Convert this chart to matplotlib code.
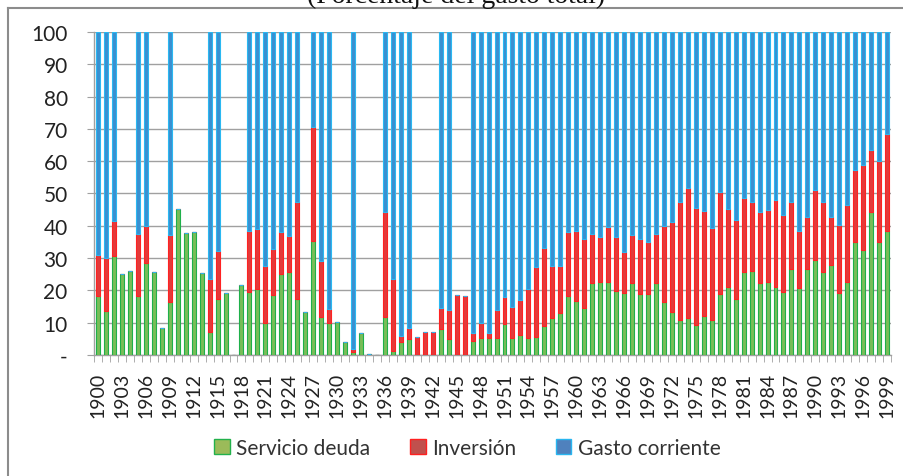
import numpy as np
import matplotlib
matplotlib.use("Agg")
import matplotlib.pyplot as plt
from matplotlib.patches import Patch
from matplotlib.lines import Line2D

plt.rcParams['font.family'] = ['Lato', 'DejaVu Sans']

years = list(range(1900, 2000))

# % del gasto total, por año (0 = sin dato)
servicio_deuda = [
    18.3, 13.7, 30.6, 25.0, 26.0, 18.3, 28.4, 25.6, 8.4, 16.3,     # 1900s
    45.2, 37.7, 38.1, 25.3, 7.1, 17.3, 19.1, 0, 21.7, 19.5,        # 1910s
    20.5, 10.0, 18.6, 25.0, 25.6, 17.3, 13.4, 35.3, 11.8, 10.0,    # 1920s
    10.2, 4.0, 1.0, 6.7, 0.3, 0, 11.8, 1.2, 3.9, 5.1,              # 1930s
    0, 0, 0, 8.1, 5.0, 0, 0, 4.3, 5.3, 5.2,                        # 1940s
    5.2, 9.5, 5.3, 6.3, 5.3, 5.6, 9.1, 11.4, 13.0, 18.3,           # 1950s
    16.6, 14.4, 22.2, 22.6, 22.6, 19.9, 19.3, 22.2, 18.9, 18.9,    # 1960s
    22.2, 16.4, 13.3, 10.9, 11.5, 9.2, 12.1, 10.9, 18.9, 21.2,     # 1970s
    17.4, 25.7, 26.1, 22.2, 22.5, 21.2, 19.4, 26.7, 20.8, 26.7,    # 1980s
    29.4, 25.6, 28.0, 19.2, 22.5, 35.0, 32.6, 44.4, 35.0, 38.5,    # 1990s
]
inversion = [
    12.6, 16.2, 10.9, 0, 0, 19.1, 11.6, 0, 0, 20.8,
    0, 0, 0, 0, 16.5, 15.0, 0, 0, 0, 19.0,
    18.6, 17.6, 14.3, 13.1, 11.1, 30.2, 0, 35.3, 17.2, 4.2,
    0, 0, 0.8, 0, 0, 0, 32.5, 22.3, 1.9, 3.2,
    5.7, 7.1, 7.1, 6.5, 9.0, 18.5, 18.2, 2.5, 4.5, 1.6,
    8.8, 8.5, 9.7, 10.7, 15.2, 21.5, 23.9, 16.0, 14.4, 19.9,
    21.9, 21.5, 15.2, 14.0, 17.1, 16.6, 12.6, 14.9, 17.0, 16.0,
    15.2, 23.6, 27.8, 36.6, 40.3, 36.3, 32.5, 28.3, 31.6, 24.0,
    24.4, 22.8, 21.2, 22.1, 22.4, 26.7, 23.9, 20.8, 17.6, 16.0,
    21.6, 21.9, 14.7, 21.1, 24.0, 22.3, 26.3, 19.1, 25.2, 30.0,
]
gasto_corriente = [
    69.1, 70.1, 58.5, 0, 0, 62.6, 60.0, 0, 0, 62.9,
    0, 0, 0, 0, 76.4, 67.7, 0, 0, 0, 61.5,
    60.9, 72.4, 67.1, 61.9, 63.3, 52.5, 0, 29.4, 71.0, 85.8,
    0, 0, 98.2, 0, 0, 0, 55.7, 76.5, 94.2, 91.7,
    0, 0, 0, 85.4, 86.0, 0, 0, 93.2, 90.2, 93.2,
    86.0, 82.0, 85.0, 83.0, 79.5, 72.9, 67.0, 72.6, 72.6, 61.8,
    61.5, 64.1, 62.6, 63.4, 60.3, 63.5, 68.1, 62.9, 64.1, 65.1,
    62.6, 60.0, 58.9, 52.5, 48.2, 54.5, 55.4, 60.8, 49.5, 54.8,
    58.2, 51.5, 52.7, 55.7, 55.1, 52.1, 56.7, 52.5, 61.6, 57.3,
    49.0, 52.5, 57.3, 59.7, 53.5, 42.7, 41.1, 36.5, 39.8, 31.5,
]

x = np.arange(len(years))
g = np.array(servicio_deuda)
r = np.array(inversion)
b = np.array(gasto_corriente)

fig = plt.figure(figsize=(9.04, 4.77), dpi=100)
ax = fig.add_axes([0.104, 0.2537, 0.8817, 0.6771])

w = 0.5
ax.bar(x, g, w, color='#79bd58', edgecolor='#1fb04a', linewidth=0.8, zorder=3)
ax.bar(x, r, w, bottom=g, color='#e23b3b', edgecolor='#ff2222', linewidth=0.8, zorder=3)
ax.bar(x, b, w, bottom=g + r, color='#3a8fd0', edgecolor='#2ab8f2', linewidth=0.8, zorder=3)

ax.set_xlim(-0.5, len(years) - 0.5)
ax.set_ylim(0, 100)

ax.set_yticks(range(0, 101, 10))
ax.set_yticklabels(['-'] + [str(v) for v in range(10, 101, 10)], fontsize=15, color='#222222')
ax.yaxis.grid(True, color='#a0a0a0', linewidth=1.0, zorder=0)
ax.tick_params(axis='y', length=5, color='#a0a0a0', pad=14)

ax.set_xticks(x[::3])
ax.set_xticklabels([str(y) for y in years[::3]], rotation=90, fontsize=14, color='#222222')
ax.set_xticks(np.arange(-0.5, len(years), 1), minor=True)
ax.tick_params(axis='x', which='major', length=0, pad=12)
ax.tick_params(axis='x', which='minor', length=5, color='#a0a0a0')

for s in ['top', 'right']:
    ax.spines[s].set_visible(False)
for s in ['left', 'bottom']:
    ax.spines[s].set_color('#a0a0a0')
    ax.spines[s].set_linewidth(1.0)

handles = [
    Patch(facecolor='#9bbb59', edgecolor='#22b14c', label='Servicio deuda'),
    Patch(facecolor='#c0504d', edgecolor='#ff2020', label='Inversión'),
    Patch(facecolor='#4f81bd', edgecolor='#29b6f0', label='Gasto corriente'),
]
fig.legend(handles=handles, loc='center', bbox_to_anchor=(0.517, 0.059), ncol=3,
           frameon=False, fontsize=15, handlelength=0.75, handleheight=0.75,
           handletextpad=0.3, columnspacing=1.9, labelcolor='#333333')

# marco del gráfico (solo se ven borde izquierdo y superior)
fig.add_artist(Line2D([8 / 904, 8 / 904], [0, 1 - 9 / 477], color='#8c8c8c', linewidth=1.5))
fig.add_artist(Line2D([8 / 904, 1], [1 - 9 / 477, 1 - 9 / 477], color='#8c8c8c', linewidth=1.5))

# título recortado por arriba
fig.text(0.505, 1 - 3 / 477, '(Porcentaje del gasto total)', ha='center', va='baseline',
         fontsize=20, family=['Liberation Serif', 'DejaVu Serif'], color='#111111')

fig.savefig('out.png', dpi=100)
